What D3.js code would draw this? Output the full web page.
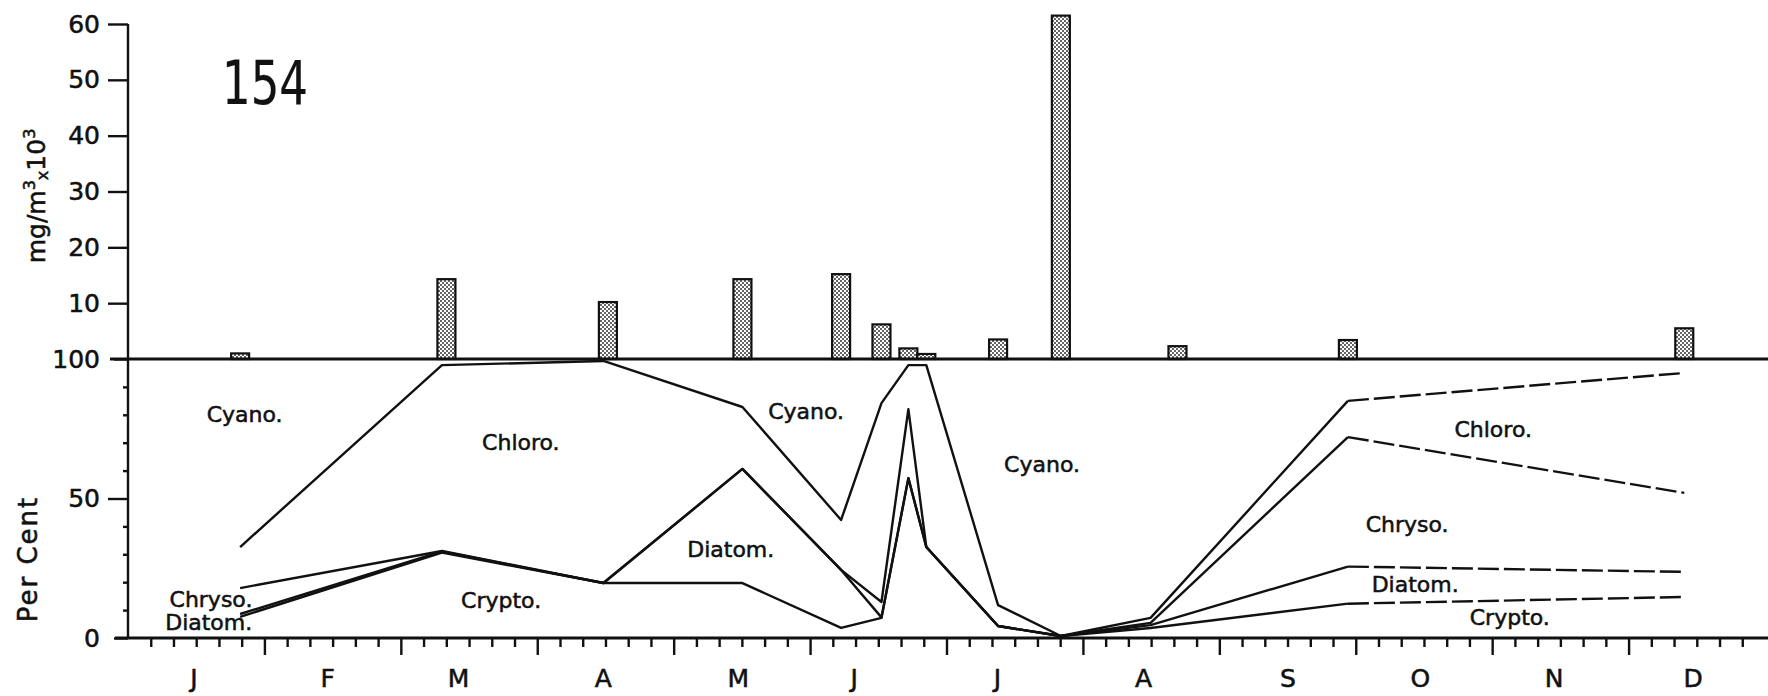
<!DOCTYPE html>
<html>
<head>
<meta charset="utf-8">
<script src="https://cdn.jsdelivr.net/npm/d3@7.9.0/dist/d3.min.js"></script>
<style>
  html, body { margin: 0; padding: 0; background: #fff; }
  svg { display: block; }
  text { font-family: "DejaVu Sans", sans-serif; fill: #111; stroke: #111; stroke-width: 0.55px; }
</style>
</head>
<body>
<svg id="chart" width="1768" height="696"></svg>
<script>
// sampling days (day of year)
const barDays = [25, 71, 107, 137, 159, 168, 174, 178, 194, 208, 234, 272, 347];
// biomass, mg/m3 x 10^3
const biomass = [1.0, 14.3, 10.2, 14.3, 15.2, 6.2, 1.9, 0.9, 3.5, 61.5, 2.3, 3.4, 5.5];

const lineDays = [25, 70, 106, 137, 159, 168, 174, 178, 194, 208, 228, 272, 347];
// cumulative per cent, stacked from the bottom: Crypto, Diatom, Chryso, Chloro (Cyano fills the rest)
const cryptoTop = [7.6, 30.6, 19.7, 19.7, 3.6, 7.2, 57.3, 32.6, 4.3, 0.7, 3.6, 12.3, 14.7];
const diatomTop = [8.6, 31.0, 19.7, 60.6, 24.4, 7.4, 57.3, 32.6, 4.3, 0.7, 4.6, 25.6, 23.7];
const chrysoTop = [17.9, 31.2, 19.7, 60.6, 24.4, 12.9, 82.0, 32.6, 4.3, 0.7, 5.4, 72.0, 52.0];
const chloroTop = [32.6, 97.8, 99.3, 82.8, 42.3, 84.2, 97.8, 97.8, 11.8, 0.7, 7.2, 85.0, 95.0];

const months = ["J", "F", "M", "A", "M", "J", "J", "A", "S", "O", "N", "D"];
const monthLabelAt = [0.48, 1.46, 2.42, 3.48, 4.47, 5.32, 6.37, 7.44, 8.5, 9.47, 10.45, 11.47];

const barTicks = [10, 20, 30, 40, 50, 60];
const pctTicks = [0, 50, 100];

// group labels: [text, day, per cent]
const groupLabels = [
  ["Cyano.", 26, 77.4], ["Chryso.", 18.5, 11.1], ["Diatom.", 18, 2.9],
  ["Chloro.", 87.6, 67.4], ["Crypto.", 83.2, 10.8], ["Diatom.", 134.4, 29.0],
  ["Cyano.", 151.2, 78.5], ["Cyano.", 203.8, 59.5],
  ["Chloro.", 304.4, 72.0], ["Chryso.", 285.2, 38.0], ["Diatom.", 287, 16.5], ["Crypto.", 308.1, 4.7]
];

const svg = d3.select("#chart");
const defs = svg.append("defs");
const pat = defs.append("pattern").attr("id", "stipple")
  .attr("width", 4).attr("height", 4).attr("patternUnits", "userSpaceOnUse");
pat.append("rect").attr("width", 4).attr("height", 4).attr("fill", "#fff");
pat.append("circle").attr("cx", 1).attr("cy", 1).attr("r", 0.95).attr("fill", "#222");
pat.append("circle").attr("cx", 3).attr("cy", 3).attr("r", 0.95).attr("fill", "#222");

const x = d3.scaleLinear().domain([0, 365]).range([128, 1765]);
const yBar = d3.scaleLinear().domain([0, 60]).range([359, 24]);
const yPct = d3.scaleLinear().domain([0, 100]).range([638, 359]);
const monthDays = 365 / 12;

// bars
svg.append("g").selectAll("rect")
  .data(barDays)
  .join("rect")
  .attr("x", d => x(d) - 9)
  .attr("width", 18)
  .attr("y", (d, i) => yBar(biomass[i]))
  .attr("height", (d, i) => yBar(0) - yBar(biomass[i]))
  .attr("fill", "url(#stipple)")
  .attr("stroke", "#111")
  .attr("stroke-width", 2.2);

// axis lines
svg.append("line").attr("x1", 128).attr("x2", 128).attr("y1", yBar(60)).attr("y2", yPct(0))
  .attr("stroke", "#111").attr("stroke-width", 2.4);
svg.append("line").attr("x1", 110).attr("x2", 1768).attr("y1", yBar(0)).attr("y2", yBar(0))
  .attr("stroke", "#111").attr("stroke-width", 2.8);
svg.append("line").attr("x1", 115).attr("x2", 1768).attr("y1", yPct(0)).attr("y2", yPct(0))
  .attr("stroke", "#111").attr("stroke-width", 2.8);

function styleAxis(g, size) {
  g.select(".domain").remove();
  g.selectAll(".tick line").attr("stroke", "#111").attr("stroke-width", 2.4);
  g.selectAll(".tick text").attr("font-size", size).attr("fill", "#111")
    .attr("font-family", "DejaVu Sans, sans-serif");
}

svg.append("g").attr("transform", "translate(128,0)")
  .call(d3.axisLeft(yBar).tickValues(barTicks).tickSize(20).tickPadding(8))
  .call(g => styleAxis(g, 25));

svg.append("g").attr("transform", "translate(128,0)")
  .call(d3.axisLeft(yPct).tickValues(pctTicks).tickSize(14).tickPadding(14))
  .call(g => styleAxis(g, 25))
  .call(g => g.selectAll(".tick").filter(d => d === 50).select("line").attr("x2", -20));

svg.append("g").attr("transform", "translate(128,0)")
  .call(d3.axisLeft(yPct).tickValues(d3.range(10, 100, 10).filter(d => d !== 50)).tickSize(5).tickFormat(""))
  .call(g => styleAxis(g, 0));

// x ticks: six per month, long at month boundaries
const ticks = d3.range(1, 72).map(i => i * 365 / 72);
svg.append("g").attr("transform", `translate(0,${yPct(0)})`)
  .call(d3.axisBottom(x).tickValues(ticks).tickSize(9).tickFormat(""))
  .call(g => styleAxis(g, 0))
  .call(g => g.selectAll(".tick").filter((d, i) => (i + 1) % 6 === 0).select("line").attr("y2", 17));

svg.append("g").attr("transform", `translate(0,${yPct(0)})`)
  .call(d3.axisBottom(x).tickValues(monthLabelAt.map(m => m * monthDays))
    .tickFormat((d, i) => months[i]).tickSize(0).tickPadding(31))
  .call(g => styleAxis(g, 25));

// composition lines
const series = [cryptoTop, diatomTop, chrysoTop, chloroTop];
const line = d3.line().x(d => x(d[0])).y(d => yPct(d[1]));
const lineG = svg.append("g").attr("fill", "none").attr("stroke", "#111")
  .attr("stroke-width", 2.4).attr("stroke-linejoin", "round");
series.forEach(s => {
  const pts = lineDays.map((d, i) => [d, s[i]]);
  lineG.append("path").attr("d", line(pts.slice(0, 12)));
  lineG.append("path").attr("d", line(pts.slice(11))).attr("stroke-dasharray", "21,5");
});

// group labels
svg.append("g").selectAll("text")
  .data(groupLabels)
  .join("text")
  .attr("x", d => x(d[1]))
  .attr("y", d => yPct(d[2]))
  .attr("text-anchor", "middle")
  .attr("font-size", 22)
  .text(d => d[0]);

// station number
svg.append("text").attr("x", 265).attr("y", 104).attr("text-anchor", "middle")
  .attr("font-size", 60).attr("textLength", 86).style("stroke-width", "0.2px")
  .attr("lengthAdjust", "spacingAndGlyphs").text("154");

// axis titles
const t1 = svg.append("text").attr("transform", "translate(45,196) rotate(-90)")
  .attr("text-anchor", "middle").attr("font-size", 25);
t1.append("tspan").text("mg/m");
t1.append("tspan").attr("dy", -10).attr("font-size", 16).text("3");
t1.append("tspan").attr("dy", 13).attr("font-size", 16).text("x");
t1.append("tspan").attr("dy", -3).text("10");
t1.append("tspan").attr("dy", -10).attr("font-size", 16).text("3");

svg.append("text").attr("transform", "translate(37,559) rotate(-90)")
  .attr("text-anchor", "middle").attr("font-size", 26).attr("letter-spacing", 2)
  .text("Per Cent");
</script>
</body>
</html>
